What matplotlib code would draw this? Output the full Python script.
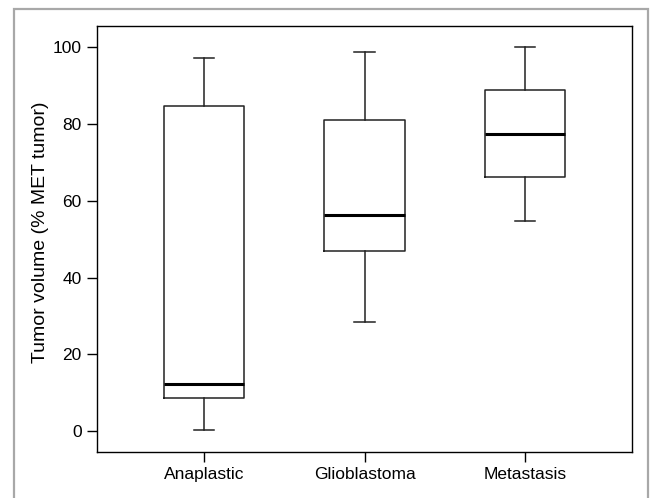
import matplotlib
matplotlib.use('Agg')
import matplotlib.pyplot as plt
from matplotlib.patches import Rectangle

plt.rcParams['font.family'] = ['Liberation Sans', 'DejaVu Sans']

# box statistics
groups = ['Anaplastic', 'Glioblastoma', 'Metastasis']
whislo = [0.35, 28.5, 54.8]
q1 = [8.6, 46.9, 66.1]
med = [12.3, 56.3, 77.5]
q3 = [84.7, 81.1, 88.8]
whishi = [97.3, 98.9, 100.0]

stats = []
for i in range(len(groups)):
    stats.append({'label': groups[i], 'whislo': whislo[i], 'q1': q1[i],
                  'med': med[i], 'q3': q3[i], 'whishi': whishi[i], 'fliers': []})

fig = plt.figure(figsize=(6.5, 4.98), dpi=100)
ax = fig.add_axes([97 / 650, 1 - 452 / 498, 535 / 650, 426 / 498])

ax.bxp(stats, positions=[1, 2, 3], widths=0.5, capwidths=0.125, showfliers=False,
       boxprops=dict(color='#222222', linewidth=1.1),
       whiskerprops=dict(color='#222222', linewidth=1.1),
       capprops=dict(color='#222222', linewidth=1.1),
       medianprops=dict(color='black', linewidth=2.2))

ax.set_xlim(1 / 3, 11 / 3)
ax.set_ylim(-5.5, 105.6)
ax.set_yticks([0, 20, 40, 60, 80, 100])
ax.set_xticks([1, 2, 3])
ax.set_xticklabels(groups)
ax.tick_params(axis='both', length=7, width=1, labelsize=12.5, direction='out', pad=4)
ax.set_ylabel('Tumor volume (% MET tumor)', fontsize=14)
ax.yaxis.set_label_coords(-0.09, 0.515)
for s in ax.spines.values():
    s.set_linewidth(1)

# grey frame round the figure
fig.patches.append(Rectangle((13.5 / 650, -0.05), 634.5 / 650, 1 - 9.5 / 498 + 0.05,
                             transform=fig.transFigure, fill=False,
                             edgecolor='#a8a8a8', linewidth=1.6))

fig.savefig('out.png', dpi=100)
